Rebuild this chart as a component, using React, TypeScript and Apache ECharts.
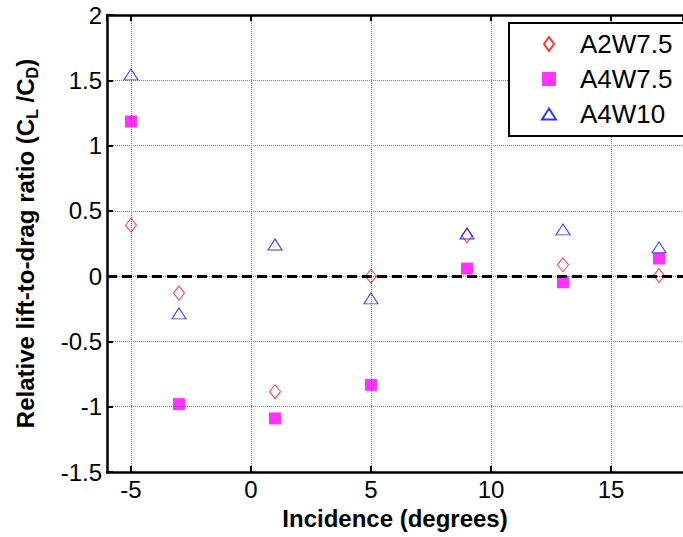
import React, { useEffect, useRef } from "react";
import * as echarts from "echarts";

const incidence = [-5, -3, 1, 5, 9, 13, 17];
const a2w75 = [0.39, -0.13, -0.885, 0.0, 0.31, 0.087, 0.005];
const a4w75 = [1.185, -0.98, -1.09, -0.833, 0.058, -0.047, 0.135];
const a4w10 = [1.545, -0.285, 0.242, -0.17, 0.327, 0.358, 0.22];
const seriesNames = ["A2W7.5", "A4W7.5", "A4W10"];

const FONT = '"Liberation Sans", Arial, sans-serif';

function pairs(ys: number[]) {
  return incidence.map((x, i) => [x, ys[i]]);
}

export default function App() {
  const ref = useRef<HTMLDivElement>(null);
  useEffect(() => {
    if (!ref.current) return;
    const chart = echarts.init(ref.current, null, { renderer: "svg" });
    const axisLine = { show: true, onZero: false, lineStyle: { color: "#000", width: 2.5 } };
    const axisTick = { show: true, inside: true, length: 6, lineStyle: { color: "#000", width: 2 } };
    const grid = { show: true, lineStyle: { color: "#7a7a7a", type: [1, 1], width: 1 } };
    chart.setOption({
      animation: false,
      backgroundColor: "#fff",
      grid: { left: 107, top: 15, right: -6, bottom: 65, containLabel: false },
      legend: {
        orient: "vertical",
        left: 509,
        top: 23,
        padding: [8, 30, 9, 32],
        itemGap: 9,
        itemWidth: 14,
        itemHeight: 14,
        symbolKeepAspect: true,
        borderColor: "#000",
        borderWidth: 2,
        borderRadius: 0,
        backgroundColor: "#fff",
        textStyle: { fontSize: 26, lineHeight: 24, color: "#000", fontFamily: FONT, padding: [0, 0, 0, 19] },
        data: [
          { name: seriesNames[0], icon: "path://M5,0L10,7L5,14L0,7Z" },
          { name: seriesNames[1], icon: "path://M0,0L12,0L12,12L0,12Z" },
          { name: seriesNames[2], icon: "path://M7,0L14,11L0,11Z" },
        ],
      },
      xAxis: [
        {
          type: "value",
          min: -6,
          max: 18,
          splitNumber: 5,
          axisLine,
          axisTick,
          splitLine: grid,
          axisLabel: {
            showMinLabel: false,
            showMaxLabel: false,
            fontSize: 24,
            color: "#000",
            fontFamily: FONT,
            margin: 5,
          },
          name: "Incidence (degrees)",
          nameLocation: "middle",
          nameGap: 34,
          nameTextStyle: { fontSize: 24, fontWeight: "bold", color: "#000", fontFamily: FONT },
        },
        {
          type: "value",
          position: "top",
          min: -6,
          max: 18,
          splitNumber: 5,
          axisLine,
          axisTick,
          splitLine: { show: false },
          axisLabel: { show: false },
        },
      ],
      yAxis: {
        type: "value",
        min: -1.5,
        max: 2,
        interval: 0.5,
        axisLine,
        axisTick,
        splitLine: grid,
        axisLabel: { fontSize: 24, color: "#000", fontFamily: FONT, margin: 5 },
        name: "{a|Relative lift-to-drag ratio (C}{s|L}{a| /C}{s|D}{a|)}",
        nameLocation: "middle",
        nameRotate: 90,
        nameGap: 67,
        nameTextStyle: {
          color: "#000",
          fontFamily: FONT,
          rich: {
            a: { fontSize: 24, fontWeight: "bold", fontFamily: FONT, color: "#000", lineHeight: 27, verticalAlign: "top" },
            s: { fontSize: 16, fontWeight: "bold", fontFamily: FONT, color: "#000", verticalAlign: "bottom" },
          },
        },
      },
      series: [
        {
          name: seriesNames[0],
          type: "scatter",
          symbol: "diamond",
          symbolSize: [11, 14],
          itemStyle: { color: "rgba(255,255,255,0)", borderColor: "#ff0000", borderWidth: 1 },
          data: pairs(a2w75),
          markLine: {
            silent: true,
            symbol: ["none", "none"],
            label: { show: false },
            lineStyle: { color: "#000", type: [10, 5], width: 3 },
            data: [{ yAxis: 0 }],
          },
          z: 3,
        },
        {
          name: seriesNames[1],
          type: "scatter",
          symbol: "rect",
          symbolSize: [12, 12],
          itemStyle: { color: "#ff00ff" },
          data: pairs(a4w75),
          z: 4,
        },
        {
          name: seriesNames[2],
          type: "scatter",
          symbol: "triangle",
          symbolSize: [14, 11],
          itemStyle: { color: "rgba(255,255,255,0)", borderColor: "#0000ff", borderWidth: 1 },
          data: pairs(a4w10),
          z: 5,
        },
      ],
    });
    return () => chart.dispose();
  }, []);
  return (
    <div
      ref={ref}
      style={{ position: "absolute", left: 0, top: 0, width: 683, height: 537 }}
    />
  );
}
